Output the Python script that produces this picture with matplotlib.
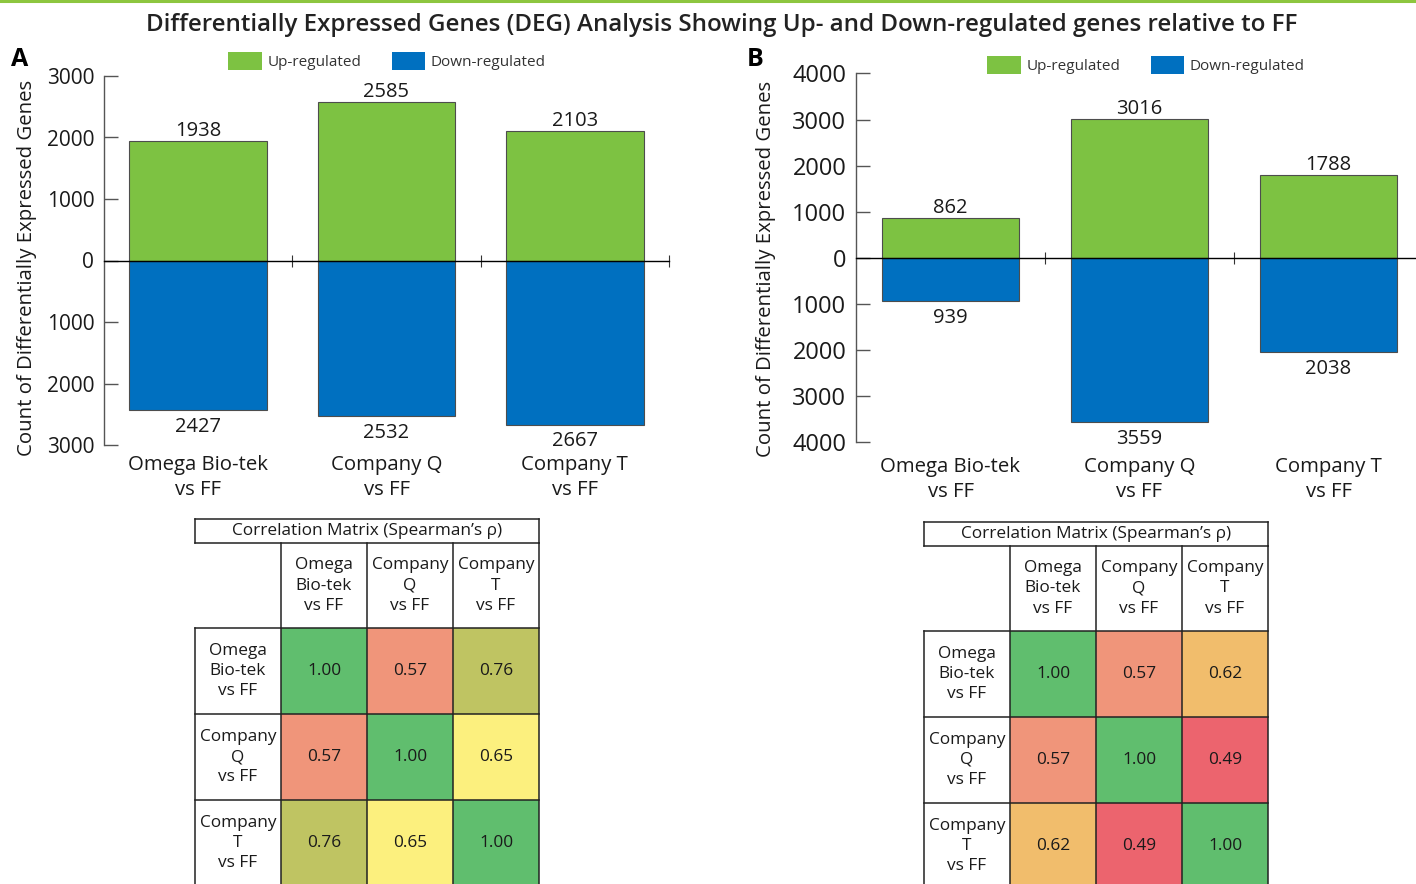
import matplotlib
matplotlib.use("Agg")
import matplotlib.pyplot as plt
import numpy as np
from matplotlib.colors import LinearSegmentedColormap, Normalize
from matplotlib.ticker import FuncFormatter, FixedLocator
from matplotlib.patches import Patch
from matplotlib.lines import Line2D

plt.rcParams['font.family'] = ['Open Sans', 'DejaVu Sans']

# ---------------- data ----------------
categories = ["Omega Bio-tek\nvs FF", "Company Q\nvs FF", "Company T\nvs FF"]
up_A = [1938, 2585, 2103]
down_A = [2427, 2532, 2667]
up_B = [862, 3016, 1788]
down_B = [939, 3559, 2038]
yticks_A = [-3000, -2000, -1000, 0, 1000, 2000, 3000]
yticks_B = [-4000, -3000, -2000, -1000, 0, 1000, 2000, 3000, 4000]
table_labels = ["Omega\nBio-tek\nvs FF", "Company\nQ\nvs FF", "Company\nT\nvs FF"]
corr_A = [[1.00, 0.57, 0.76],
          [0.57, 1.00, 0.65],
          [0.76, 0.65, 1.00]]
corr_B = [[1.00, 0.57, 0.62],
          [0.57, 1.00, 0.49],
          [0.62, 0.49, 1.00]]

title = "Differentially Expressed Genes (DEG) Analysis Showing Up- and Down-regulated genes relative to FF"
ylabel = "Count of Differentially Expressed Genes"
table_title = "Correlation Matrix (Spearman\u2019s \u03c1)"

GREEN = "#7DC242"
BLUE = "#0070C0"
TXT = "#1a1a1a"

W, H = 1416, 884
fig = plt.figure(figsize=(W / 100, H / 100), dpi=100)


def px_axes(left, top, right, bottom):
    return fig.add_axes([left / W, 1 - bottom / H, (right - left) / W, (bottom - top) / H])


# top rule and title
fig.add_artist(Line2D([0, 1], [1 - 1 / H, 1 - 1 / H], transform=fig.transFigure,
                      color="#8DC63F", lw=2.2))
fig.text(722 / W, 1 - 25 / H, title, ha="center", va="center", fontsize=17.4,
         fontweight="semibold", color="#222222")

# correlation colour scale
cmap = LinearSegmentedColormap.from_list(
    "corr",
    [(0.0, "#EC646E"), ((0.57 - 0.49) / 0.51, "#F0957A"), ((0.62 - 0.49) / 0.51, "#F1BD6C"),
     ((0.65 - 0.49) / 0.51, "#FCF07E"), ((0.76 - 0.49) / 0.51, "#BFC462"), (1.0, "#60BE6E")])
norm = Normalize(vmin=0.49, vmax=1.0)


def bar_panel(box, up, down, yticks, lim, tick_fs, letter_xy, legend_xy, ylab_xy, cat_off):
    ax = px_axes(*box)
    x = np.arange(len(categories))
    ax.bar(x, up, width=0.73, color=GREEN, edgecolor="#4d4d4d", linewidth=0.8, zorder=2)
    ax.bar(x, [-d for d in down], width=0.73, color=BLUE, edgecolor="#4d4d4d",
           linewidth=0.8, zorder=2)
    ax.set_xlim(-0.5, 2.5)
    ax.set_ylim(-lim, lim)
    ax.spines["top"].set_visible(False)
    ax.spines["right"].set_visible(False)
    ax.spines["left"].set_color("#555555")
    ax.spines["left"].set_linewidth(1.0)
    ax.spines["bottom"].set_position(("data", 0))
    ax.spines["bottom"].set_color("black")
    ax.spines["bottom"].set_linewidth(1.0)
    ax.spines["bottom"].set_zorder(3)
    ax.xaxis.set_major_locator(FixedLocator([0.5, 1.5, 2.5]))
    ax.tick_params(axis="x", direction="inout", length=9, width=0.8, color="#333333",
                   labelbottom=False)
    ax.yaxis.set_major_locator(FixedLocator(yticks))
    ax.yaxis.set_major_formatter(FuncFormatter(lambda v, p: f"{abs(int(round(v)))}"))
    ax.tick_params(axis="y", direction="in", length=10, width=1.0, color="#555555",
                   labelsize=tick_fs, labelcolor=TXT, pad=7)
    ax.set_ylabel(ylabel, fontsize=14.7, color=TXT)
    ax.yaxis.set_label_coords(*ylab_xy)
    for i in x:
        ax.annotate(f"{up[i]}", xy=(i, up[i]), xytext=(0, 0), textcoords="offset points",
                    ha="center", va="bottom", fontsize=14.5, color=TXT)
        ax.annotate(f"{down[i]}", xy=(i, -down[i]), xytext=(0, -5), textcoords="offset points",
                    ha="center", va="top", fontsize=14.5, color=TXT)
        ax.annotate(categories[i], xy=(i, 0), xycoords=("data", "axes fraction"),
                    xytext=(0, cat_off), textcoords="offset points", ha="center", va="top",
                    fontsize=14.7, color=TXT, linespacing=1.32)
    fig.text(letter_xy[0] / W, 1 - letter_xy[1] / H, letter_xy[2], fontsize=18,
             fontweight="bold", ha="left", va="center", color="black")
    handles = [Patch(facecolor=GREEN, label="Up-regulated"),
               Patch(facecolor=BLUE, label="Down-regulated")]
    ax.legend(handles=handles, loc="center", bbox_to_anchor=(legend_xy[0] / W, 1 - legend_xy[1] / H),
              bbox_transform=fig.transFigure, ncol=2, frameon=False, fontsize=11,
              handlelength=2.2, handleheight=1.5, handletextpad=0.35, columnspacing=2.0,
              labelcolor="#333333")
    return ax


bar_panel((104, 76, 669, 445), up_A, down_A, yticks_A, 3000, 15,
          (11, 60, "A"), (387, 61), (-0.118, 0.48), -7.5)
bar_panel((856, 73.5, 1423, 442), up_B, down_B, yticks_B, 4000, 17,
          (747, 60, "B"), (1146, 65), (-0.141, 0.47), -11.0)


def table_panel(left, top, corr):
    n = len(table_labels)
    title_h = 24 / 86
    head_h = 85 / 86
    rows_top = title_h + head_h
    total_h = rows_top + n
    ax = px_axes(left, top, left + 344, top + total_h * 86)
    ax.set_xlim(0, n + 1)
    ax.set_ylim(total_h, 0)
    ax.axis("off")
    xe = np.arange(1, n + 2)
    ye = rows_top + np.arange(n + 1)
    ax.pcolormesh(xe, ye, np.array(corr), cmap=cmap, norm=norm, zorder=1)
    lc = "#222222"
    lw = 1.1
    # title box
    ax.plot([0, n + 1], [0, 0], color=lc, lw=lw, clip_on=False)
    ax.plot([0, n + 1], [title_h, title_h], color=lc, lw=lw, clip_on=False)
    ax.plot([0, 0], [0, title_h], color=lc, lw=lw, clip_on=False)
    ax.plot([n + 1, n + 1], [0, title_h], color=lc, lw=lw, clip_on=False)
    ax.text((n + 1) / 2, title_h / 2, table_title, ha="center", va="center", fontsize=12.4,
            color=TXT)
    # grid lines
    for c in range(1, n + 2):
        ax.plot([c, c], [title_h, total_h], color=lc, lw=lw, clip_on=False, zorder=3)
    ax.plot([0, 0], [rows_top, total_h], color=lc, lw=lw, clip_on=False, zorder=3)
    for r in range(n + 1):
        ax.plot([0, n + 1], [rows_top + r, rows_top + r], color=lc, lw=lw, clip_on=False, zorder=3)
    for j, lab in enumerate(table_labels):
        ax.text(j + 1.5, title_h + head_h / 2, lab, ha="center", va="center", fontsize=12.4,
                color=TXT, linespacing=1.34)
        ax.text(0.5, rows_top + j + 0.5, lab, ha="center", va="center", fontsize=12.4,
                color=TXT, linespacing=1.32)
        for k in range(n):
            ax.text(k + 1.5, rows_top + j + 0.5, f"{corr[j][k]:.2f}", ha="center",
                    va="center", fontsize=12.4, color=TXT, zorder=4)
    return ax


table_panel(195, 519, corr_A)
table_panel(924, 522, corr_B)

fig.savefig("out.png", dpi=100)
